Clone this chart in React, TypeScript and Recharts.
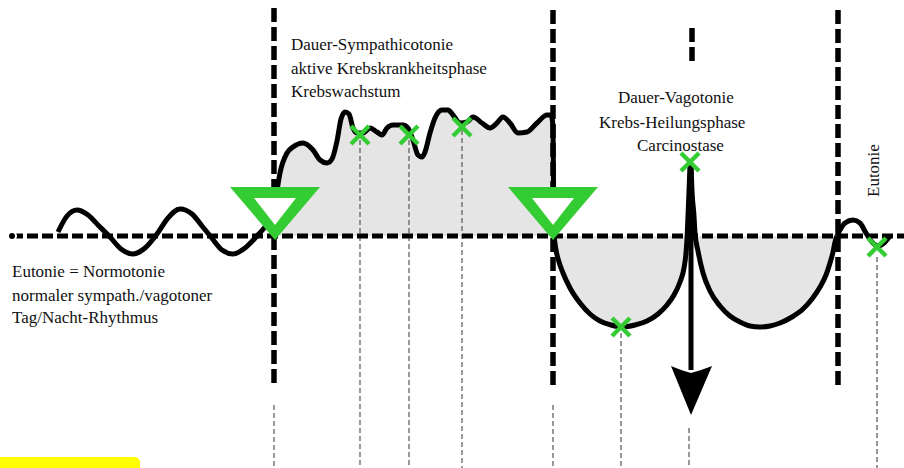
import React from "react";
import {
  ComposedChart,
  Line,
  Area,
  Scatter,
  XAxis,
  YAxis,
  ReferenceArea,
  Rectangle,
} from "recharts";

// y = 0 is the neutral (eutonic) baseline; positive = sympathicotonia, negative = vagotonia
const sineWave = [
  { x: 58, y: 4 }, { x: 67, y: 20 }, { x: 77, y: 26 }, { x: 88, y: 21 }, { x: 99, y: 10 },
  { x: 110, y: -1 }, { x: 121, y: -13 }, { x: 133, y: -18 }, { x: 145, y: -12 }, { x: 157, y: 2 },
  { x: 168, y: 18 }, { x: 180, y: 27 }, { x: 192, y: 22 }, { x: 202, y: 10 }, { x: 211, y: -1 },
  { x: 222, y: -14 }, { x: 233, y: -18 }, { x: 245, y: -12 }, { x: 257, y: 0 }, { x: 265, y: 9 },
  { x: 274, y: 22 },
];

const sympathico = [
  { x: 274, y: 22 }, { x: 277, y: 45 }, { x: 280, y: 63 }, { x: 287, y: 83 }, { x: 293, y: 89 },
  { x: 303, y: 93 }, { x: 313, y: 86 }, { x: 320, y: 76 }, { x: 327, y: 73 }, { x: 332, y: 77 },
  { x: 337, y: 95 }, { x: 341, y: 117 }, { x: 345, y: 124 }, { x: 349, y: 122 }, { x: 353, y: 108 },
  { x: 357, y: 103 }, { x: 363, y: 103 }, { x: 370, y: 108 }, { x: 377, y: 104 }, { x: 382, y: 101 },
  { x: 387, y: 108 }, { x: 393, y: 111 }, { x: 403, y: 111 }, { x: 408, y: 108 }, { x: 413, y: 96 },
  { x: 418, y: 81 }, { x: 422, y: 79 }, { x: 425, y: 84 }, { x: 430, y: 103 }, { x: 435, y: 118 },
  { x: 442, y: 126 }, { x: 448, y: 126 }, { x: 453, y: 121 }, { x: 460, y: 113 }, { x: 467, y: 114 },
  { x: 473, y: 119 }, { x: 482, y: 113 }, { x: 490, y: 108 }, { x: 497, y: 113 }, { x: 503, y: 119 },
  { x: 510, y: 113 }, { x: 518, y: 103 }, { x: 527, y: 104 }, { x: 537, y: 113 }, { x: 547, y: 121 },
  { x: 551, y: 121 }, { x: 553, y: 110 }, { x: 554, y: 0 },
];

const vagoLeft = [
  { x: 554, y: 0 }, { x: 556, y: -14 }, { x: 559, y: -26 }, { x: 563, y: -37 }, { x: 570, y: -52 },
  { x: 580, y: -67 }, { x: 590, y: -78 }, { x: 600, y: -85 }, { x: 611, y: -89 }, { x: 622, y: -91 },
  { x: 635, y: -89 }, { x: 647, y: -85 }, { x: 658, y: -78 }, { x: 667, y: -69 }, { x: 674, y: -59 },
  { x: 680, y: -46 }, { x: 684, y: -32 }, { x: 686, y: -17 }, { x: 687, y: -3 }, { x: 688, y: 20 },
  { x: 689, y: 45 }, { x: 690, y: 71 },
];

const vagoRight = [
  { x: 691, y: 71 }, { x: 692, y: 45 }, { x: 694, y: 20 }, { x: 695, y: 3 }, { x: 698, y: -15 },
  { x: 703, y: -37 }, { x: 710, y: -55 }, { x: 720, y: -70 }, { x: 730, y: -80 }, { x: 740, y: -86 },
  { x: 750, y: -90 }, { x: 760, y: -91 }, { x: 770, y: -90 }, { x: 780, y: -87 }, { x: 792, y: -81 },
  { x: 803, y: -73 }, { x: 812, y: -63 }, { x: 820, y: -51 }, { x: 826, y: -39 }, { x: 830, y: -27 },
  { x: 833, y: -16 }, { x: 835, y: -6 }, { x: 837, y: 0 },
];

const eutonieEnd = [
  { x: 837, y: 0 }, { x: 840, y: 6 }, { x: 845, y: 13 }, { x: 853, y: 16 }, { x: 860, y: 13 },
  { x: 866, y: 3 }, { x: 872, y: -6 }, { x: 878, y: -10 }, { x: 884, y: -7 }, { x: 890, y: 0 },
];

const arrowShaft = [{ x: 691, y: 71 }, { x: 691, y: -134 }];
const arrowTip = [{ x: 691, y: -179 }];

const baseline = [{ x: 12, y: 0 }, { x: 904, y: 0 }];

// thick dashed phase separators: [x, yTop, yBottom]
const phaseLines = [
  [274, 228, -150],
  [553, 226, -149],
  [838, 226, -149],
  [692, 208, 174],
];

// thin grey drop lines: [x, yTop, yBottom]
const dropLines = [
  [274, -169, -232],
  [553, -169, -232],
  [360, 96, -232],
  [409, 96, -232],
  [462, 106, -232],
  [621, -97, -232],
  [689, -192, -232],
  [877, -21, -232],
];

const triangles = [{ x: 275, y: -4 }, { x: 553, y: -4 }];

const crosses = [
  { x: 360, y: 101 }, { x: 409, y: 101 }, { x: 462, y: 109 },
  { x: 621, y: -91 }, { x: 690, y: 74 }, { x: 877, y: -11 },
];

const labels = [
  { x: 291, y: 186, text: "Dauer-Sympathicotonie", rotate: 0 },
  { x: 291, y: 162, text: "aktive Krebskrankheitsphase", rotate: 0 },
  { x: 291, y: 139, text: "Krebswachstum", rotate: 0 },
  { x: 12, y: -41, text: "Eutonie = Normotonie", rotate: 0 },
  { x: 12, y: -65, text: "normaler sympath./vagotoner", rotate: 0 },
  { x: 12, y: -87, text: "Tag/Nacht-Rhythmus", rotate: 0 },
  { x: 618, y: 133, text: "Dauer-Vagotonie", rotate: 0 },
  { x: 599, y: 108, text: "Krebs-Heilungsphase", rotate: 0 },
  { x: 637, y: 85, text: "Carcinostase", rotate: 0 },
  { x: 879, y: 39, text: "Eutonie", rotate: -90 },
];

const GREEN = "#33cc33";
const GREY_FILL = "#e5e5e5";
const FONT = "Liberation Serif, Tinos, Times New Roman, DejaVu Serif, serif";

const TriangleShape = (p: any) => {
  const { cx, cy } = p;
  const outer = `${cx - 45},${cy - 53} ${cx + 45},${cy - 53} ${cx},${cy}`;
  const inner = `${cx - 21},${cy - 42} ${cx + 21},${cy - 42} ${cx},${cy - 15}`;
  return (
    <g>
      <polygon points={outer} fill={GREEN} />
      <polygon points={inner} fill="#ffffff" />
    </g>
  );
};

const CrossShape = (p: any) => {
  const { cx, cy } = p;
  const r = 9;
  return (
    <g stroke={GREEN} strokeWidth={4.5}>
      <line x1={cx - r} y1={cy - r} x2={cx + r} y2={cy + r} />
      <line x1={cx - r} y1={cy + r} x2={cx + r} y2={cy - r} />
    </g>
  );
};

const ArrowHead = (p: any) => {
  const { cx, cy } = p;
  const d = `M ${cx} ${cy} L ${cx - 20} ${cy - 49} Q ${cx - 8} ${cy - 44} ${cx} ${cy - 42} Q ${cx + 8} ${cy - 44} ${cx + 21} ${cy - 49} Z`;
  return <path d={d} fill="#000" />;
};

const LabelShape = (p: any) => {
  const { cx, cy, payload } = p;
  const rot = payload.rotate;
  return (
    <text
      x={cx}
      y={cy}
      style={{ fontFamily: FONT, fontSize: 17, fill: "#111" }}
      textAnchor="start"
      transform={rot ? `rotate(${rot} ${cx} ${cy})` : undefined}
    >
      {payload.text}
    </text>
  );
};

const YellowTab = (p: any) => <Rectangle {...p} radius={[0, 10, 0, 0]} />;

export default function App() {
  return (
    <div
      style={{
        position: "absolute",
        left: 0,
        top: 0,
        width: 904,
        height: 468,
        background: "#fff",
        overflow: "hidden",
      }}
    >
      <ComposedChart width={904} height={468} margin={{ top: 0, right: 0, bottom: 0, left: 0 }}>
        <XAxis dataKey="x" type="number" domain={[0, 904]} allowDataOverflow hide />
        <YAxis dataKey="y" type="number" domain={[-232, 236]} allowDataOverflow hide />

        <ReferenceArea
          x1={0}
          x2={140}
          y1={-221}
          y2={-232}
          ifOverflow="visible"
          fill="#ffff00"
          fillOpacity={1}
          stroke="none"
          shape={YellowTab}
        />

        <Area data={sympathico} dataKey="y" type="monotone" baseValue={0} fill={GREY_FILL} fillOpacity={1} stroke="none" isAnimationActive={false} />
        <Area data={vagoLeft} dataKey="y" type="monotone" baseValue={0} fill={GREY_FILL} fillOpacity={1} stroke="none" isAnimationActive={false} />
        <Area data={vagoRight} dataKey="y" type="monotone" baseValue={0} fill={GREY_FILL} fillOpacity={1} stroke="none" isAnimationActive={false} />

        {dropLines.map(([x, y1, y2], i) => (
          <Line
            key={`drop${i}`}
            data={[{ x, y: y1 }, { x, y: y2 }]}
            dataKey="y"
            type="linear"
            stroke="#555"
            strokeWidth={1.2}
            strokeDasharray="5 3"
            dot={false}
            isAnimationActive={false}
          />
        ))}

        <Line data={baseline} dataKey="y" type="linear" stroke="#000" strokeWidth={5} strokeDasharray="11 4" dot={false} isAnimationActive={false} />

        <Line data={sineWave} dataKey="y" type="monotone" stroke="#000" strokeWidth={5} dot={false} isAnimationActive={false} />
        <Line data={sympathico} dataKey="y" type="monotone" stroke="#000" strokeWidth={5} dot={false} isAnimationActive={false} />
        <Line data={vagoLeft} dataKey="y" type="monotone" stroke="#000" strokeWidth={5} dot={false} isAnimationActive={false} />
        <Line data={vagoRight} dataKey="y" type="monotone" stroke="#000" strokeWidth={5} dot={false} isAnimationActive={false} />
        <Line data={eutonieEnd} dataKey="y" type="monotone" stroke="#000" strokeWidth={5} dot={false} isAnimationActive={false} />
        <Line data={arrowShaft} dataKey="y" type="linear" stroke="#000" strokeWidth={5} dot={false} isAnimationActive={false} />

        {phaseLines.map(([x, y1, y2], i) => (
          <Line
            key={`phase${i}`}
            data={[{ x, y: y1 }, { x, y: y2 }]}
            dataKey="y"
            type="linear"
            stroke="#000"
            strokeWidth={5.5}
            strokeDasharray="14 5"
            dot={false}
            isAnimationActive={false}
          />
        ))}

        <Scatter data={arrowTip} dataKey="y" shape={ArrowHead} isAnimationActive={false} />
        <Scatter data={triangles} dataKey="y" shape={TriangleShape} isAnimationActive={false} />
        <Scatter data={crosses} dataKey="y" shape={CrossShape} isAnimationActive={false} />
        <Scatter data={labels} dataKey="y" shape={LabelShape} isAnimationActive={false} />
      </ComposedChart>
    </div>
  );
}
